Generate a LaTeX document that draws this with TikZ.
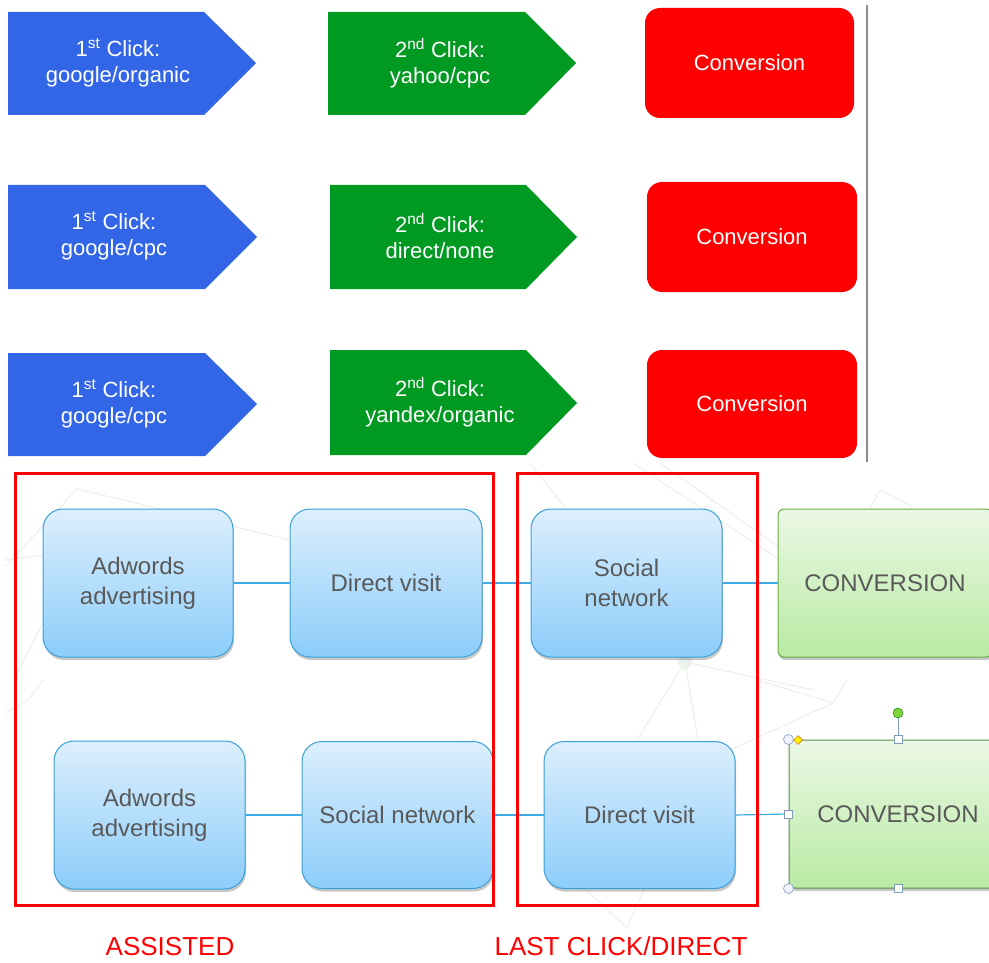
\documentclass[tikz,border=0pt]{standalone}
\usepackage{fontspec}
\setmainfont{Liberation Sans}
\usetikzlibrary{shadows,shapes.geometric}
\definecolor{clickblue}{HTML}{3366E6}
\definecolor{clickgreen}{HTML}{009A22}
\definecolor{convred}{HTML}{FF0000}
\definecolor{boxtop}{HTML}{DDEFFD}
\definecolor{boxbot}{HTML}{8CCDFA}
\definecolor{boxline}{HTML}{3AA0DA}
\definecolor{greentop}{HTML}{EBF8E5}
\definecolor{greenbot}{HTML}{B9EAA3}
\definecolor{greenline}{HTML}{6AAE47}
\definecolor{greensel}{HTML}{5C8A52}
\definecolor{txtgray}{HTML}{595959}
\definecolor{linkblue}{HTML}{3DAAE6}
\definecolor{handleblue}{HTML}{7F9DB9}
\definecolor{rotgreen}{HTML}{7CD43A}
\tikzset{
  bgline/.style={draw=black!7, line width=1pt},
  clicktext/.style={text=white, align=center, font=\fontsize{22}{26}\selectfont},
  convbox/.style={fill=convred, rounded corners=15pt, text=white, font=\fontsize{22}{26}\selectfont},
  flowbox/.style={draw=boxline, line width=1pt, top color=boxtop, bottom color=boxbot,
    rounded corners=20pt, text=txtgray, align=center, inner sep=0pt,
    font=\fontsize{24}{30}\selectfont,
    drop shadow={shadow xshift=1pt, shadow yshift=-3pt, fill=black, opacity=0.22}},
  goalbox/.style={draw=greenline, line width=1pt, top color=greentop, bottom color=greenbot,
    rounded corners=6pt, text=txtgray, inner sep=0pt,
    font=\fontsize{24}{30}\selectfont,
    drop shadow={shadow xshift=1pt, shadow yshift=-3pt, fill=black, opacity=0.22}},
  link/.style={draw=linkblue, line width=1.2pt},
  framebox/.style={draw=convred, line width=3pt, inner sep=0pt},
  framelabel/.style={text=convred, inner sep=0pt, font=\fontsize{26}{30}\selectfont},
  sqhandle/.style={draw=handleblue, fill=white, line width=0.8pt, minimum size=8pt, inner sep=0pt},
  cihandle/.style={circle, draw=handleblue!80, fill=blue!5, line width=0.8pt, minimum size=10pt, inner sep=0pt},
}
\begin{document}
\begin{tikzpicture}[x=1pt,y=-1pt]
\useasboundingbox (0,0) rectangle (989,963);
\clip (0,0) rectangle (989,963);

% faint background network
\draw[bgline] (5,567) -- (77,489) -- (290,540);
\draw[bgline] (5,560) -- (233,532);
\draw[bgline] (5,713) -- (28,700) -- (43,680);
\draw[bgline] (17,673) -- (43,623);
\draw[bgline] (530,463) -- (567,510);
\draw[bgline] (633,463) -- (780,560);
\draw[bgline] (660,463) -- (790,555);
\draw[bgline] (685,662) -- (813,690);
\draw[bgline] (685,662) -- (637,740);
\draw[bgline] (685,662) -- (698,740);
\draw[bgline] (880,490) -- (857,532);
\draw[bgline] (880,490) -- (913,507);
\draw[bgline] (833,703) -- (730,750);
\draw[bgline] (833,703) -- (757,680);
\draw[bgline] (833,703) -- (847,680);
\draw[bgline] (583,887) -- (627,928) -- (645,887);
\fill[green!40!black!8] (685,662) circle (7pt);

% top section: click paths
\fill[clickblue] (8,12) -- (204,12) -- (256,63) -- (204,115) -- (8,115) -- cycle;
\node[clicktext] (b1) at (118,63) {1\textsuperscript{st} Click:\\google/organic};
\fill[clickgreen] (328,12) -- (525,12) -- (576,63) -- (525,115) -- (328,115) -- cycle;
\node[clicktext] (g1) at (440,63) {2\textsuperscript{nd} Click:\\yahoo/cpc};
\node[convbox, minimum width=209pt, minimum height=110pt] (r1) at (749.5,63) {Conversion};

\fill[clickblue] (8,185) -- (205,185) -- (257,237) -- (205,289) -- (8,289) -- cycle;
\node[clicktext] (b2) at (114,236) {1\textsuperscript{st} Click:\\google/cpc};
\fill[clickgreen] (330,185) -- (526,185) -- (577,237) -- (526,289) -- (330,289) -- cycle;
\node[clicktext] (g2) at (440,236) {2\textsuperscript{nd} Click:\\direct/none};
\node[convbox, minimum width=210pt, minimum height=110pt] (r2) at (752,237) {Conversion};

\fill[clickblue] (8,353) -- (205,353) -- (257,404) -- (205,456) -- (8,456) -- cycle;
\node[clicktext] (b3) at (114,404) {1\textsuperscript{st} Click:\\google/cpc};
\fill[clickgreen] (330,350) -- (526,350) -- (577,403) -- (526,455) -- (330,455) -- cycle;
\node[clicktext] (g3) at (440,402) {2\textsuperscript{nd} Click:\\yandex/organic};
\node[convbox, minimum width=210pt, minimum height=108pt] (r3) at (752,404) {Conversion};

\draw[black!45, line width=1.5pt] (867,5) -- (867,462);

% bottom section: row 1
\node[flowbox, minimum width=190pt, minimum height=148pt] (adw1) at (138,583) {Adwords\\advertising};
\node[flowbox, minimum width=192pt, minimum height=148pt] (dv1) at (386,583) {Direct visit};
\node[flowbox, minimum width=191pt, minimum height=148pt] (sn1) at (626.5,583) {Social\\network};
\node[goalbox, minimum width=214pt, minimum height=148pt] (cv1) at (885,583) {CONVERSION};
\draw[link] (adw1.east) -- (dv1.west);
\draw[link] (dv1.east) -- (sn1.west);
\draw[link] (sn1.east) -- (cv1.west);

% row 2
\node[flowbox, minimum width=191pt, minimum height=148pt] (adw2) at (149.5,815) {Adwords\\advertising};
\node[flowbox, minimum width=191pt, minimum height=147pt] (sn2) at (397.5,815) {Social network};
\node[flowbox, minimum width=191pt, minimum height=147pt] (dv2) at (639.5,815) {Direct visit};
\node[goalbox, draw=greensel, minimum width=218pt, minimum height=148pt] (cv2) at (898,814) {CONVERSION};
\draw[link] (adw2.east) -- (sn2.west);
\draw[link] (sn2.east) -- (dv2.west);
\draw[link] (dv2.east) -- (cv2.west);

% selection handles on the second conversion box
\coordinate (rot) at (898,713);
\draw[handleblue, line width=0.8pt] (rot) -- (cv2.north);
\node[circle, draw=green!45!black, fill=rotgreen, minimum size=10pt, inner sep=0pt] (hrot) at (rot) {};
\node[cihandle] (hnw) at (cv2.north west) {};
\node[cihandle] (hsw) at (cv2.south west) {};
\node[diamond, draw=orange!80!black, fill=yellow, line width=0.5pt, minimum size=9pt, inner sep=0pt] (hdia) at (798,740) {};
\node[sqhandle] (hn) at (cv2.north) {};
\node[sqhandle] (hw) at (cv2.west) {};
\node[sqhandle] (hs) at (cv2.south) {};

% red frames and labels
\node[framebox, minimum width=478pt, minimum height=432pt] (assisted) at (254,689) {};
\node[framebox, minimum width=240pt, minimum height=432pt] (lastclick) at (637,689) {};
\node[framelabel] (lblA) at (170,947) {ASSISTED};
\node[framelabel] (lblL) at (621,946) {LAST CLICK/DIRECT};
\end{tikzpicture}
\end{document}
